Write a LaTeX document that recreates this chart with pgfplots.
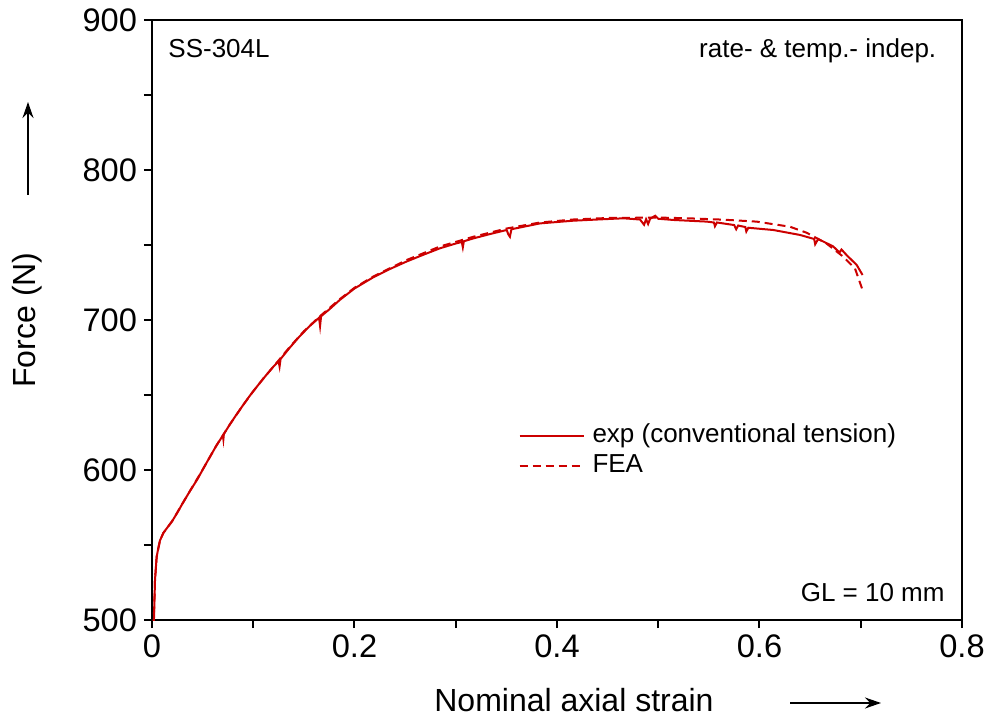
\documentclass[border=0pt]{standalone}
\usepackage{pgfplots}
\pgfplotsset{compat=1.18}
\usepackage{fontspec}
\setmainfont{Liberation Sans}
\usetikzlibrary{arrows.meta}
\definecolor{expred}{RGB}{204,0,0}
\begin{document}
\begin{tikzpicture}
\begin{axis}[
  at={(0pt,0pt)}, anchor=south west,
  scale only axis, width=405pt, height=300pt,
  xmin=0, xmax=0.8, ymin=500, ymax=900,
  xtick={0,0.2,0.4,0.6,0.8}, ytick={500,600,700,800,900},
  minor x tick num=1, minor y tick num=1,
  xtick pos=bottom, ytick pos=left,
  tick align=outside,
  major tick length=4pt, minor tick length=4pt,
  every tick/.style={black, line width=1pt},
  axis line style={black, line width=1.2pt},
  /pgf/number format/assume math mode=true,
  ticklabel style={font=\fontsize{16.3}{19}\selectfont},
  xlabel={Nominal axial strain}, ylabel={Force (N)},
  label style={font=\fontsize{16}{19}\selectfont},
  x label style={at={(axis description cs:0.521,-0.133)}, anchor=center},
  y label style={at={(axis description cs:-0.154,0.5)}, anchor=center, rotate=0},
  legend cell align=left,
  legend style={draw=none, fill=none, at={(axis description cs:0.452,0.332)}, anchor=north west,
    font=\fontsize{13}{15}\selectfont, inner sep=0pt, row sep=0pt,
    nodes={inner sep=1pt, text height=9.5pt, text depth=3.5pt}},
  legend image code/.code={\draw[#1] (0pt,0pt) -- (32pt,0pt); \path (35pt,0pt);},
  clip=true,
]
\addplot[expred, line width=1pt] coordinates {
(0.0018,495) (0.002,502) (0.003,527) (0.0046,542) (0.0065,549) (0.0079,553)
(0.0112,558) (0.015,561.5) (0.02,566) (0.025,571.5) (0.03,577.5) (0.0375,586)
(0.045,594) (0.0507,601) (0.057,608.5) (0.0638,616.5) (0.070,623) (0.0705,620.5)
(0.071,624) (0.077,630.5) (0.0835,637) (0.0902,643.5) (0.095,648) (0.1,652.5)
(0.11,661) (0.12,669) (0.125,672.5) (0.126,669) (0.127,674) (0.136,681.5)
(0.145,688.5) (0.155,695.5) (0.165,701.5) (0.166,696) (0.167,702.5) (0.175,707)
(0.1857,713.5) (0.2,721) (0.2186,728.5) (0.235,734) (0.2515,739) (0.268,743.5)
(0.2844,747.8) (0.30,751) (0.306,752) (0.307,748.5) (0.308,752.5) (0.3174,754.4)
(0.335,757.5) (0.3503,760) (0.352,757) (0.3535,755.5) (0.355,760.5) (0.3832,764.4)
(0.4161,766.2) (0.44,767) (0.4655,767.8) (0.482,767) (0.486,763.5) (0.488,767.2)
(0.49,764) (0.492,767.5) (0.497,769.5) (0.5,767.5) (0.5148,766.7) (0.5478,765.6)
(0.555,765) (0.556,762.5) (0.558,765) (0.575,763.3) (0.577,760.5) (0.579,763)
(0.5807,762.7) (0.586,762) (0.587,759) (0.589,761.5) (0.6136,760) (0.64,756.7)
(0.654,754) (0.655,750.5) (0.658,754) (0.6729,749) (0.679,745) (0.681,747)
(0.686,743.3) (0.696,736.7) (0.7018,730)
};
\addlegendentry{exp (conventional tension)}
\addplot[expred, line width=1pt, dash pattern=on 4pt off 2.5pt] coordinates {
(0.0015,495) (0.003,527) (0.0046,542) (0.0079,553) (0.0112,558) (0.02,566)
(0.03,577.5) (0.0375,586) (0.0507,601) (0.0638,616.5) (0.077,630.5) (0.0902,643.5)
(0.1,652.5) (0.11,661) (0.125,673) (0.136,682) (0.15,692.5) (0.165,702)
(0.1857,714) (0.2,721.5) (0.2186,729) (0.2515,740) (0.2844,749) (0.3174,755.5)
(0.3503,761) (0.3832,765) (0.4161,767) (0.45,768) (0.5,768.3) (0.53,767.8)
(0.564,766.9) (0.597,765.6) (0.63,762.2) (0.6465,758.2) (0.666,751.1)
(0.6827,742.2) (0.6943,734.4) (0.7018,720)
};
\addlegendentry{FEA}
\node[anchor=base west, inner sep=0pt, font=\fontsize{13}{15}\selectfont] at (axis description cs:0.0198,0.9367) {SS-304L};
\node[anchor=base east, inner sep=0pt, font=\fontsize{13}{15}\selectfont] at (axis description cs:0.9687,0.9367) {rate- \& temp.- indep.};
\node[anchor=base east, inner sep=0pt, font=\fontsize{13}{15}\selectfont] at (axis description cs:0.979,0.0305) {GL = 10 mm};
\end{axis}
\draw[line width=0.9pt, -{Stealth[length=8pt, width=5.5pt]}] (-62pt,212.5pt) -- (-62pt,259pt);
\draw[line width=0.9pt, -{Stealth[length=8pt, width=5.5pt]}] (319pt,-41.5pt) -- (364.5pt,-41.5pt);
\pgfresetboundingbox
\path (-76pt,-49.5pt) rectangle (417.5pt,310pt);
\end{tikzpicture}
\end{document}
